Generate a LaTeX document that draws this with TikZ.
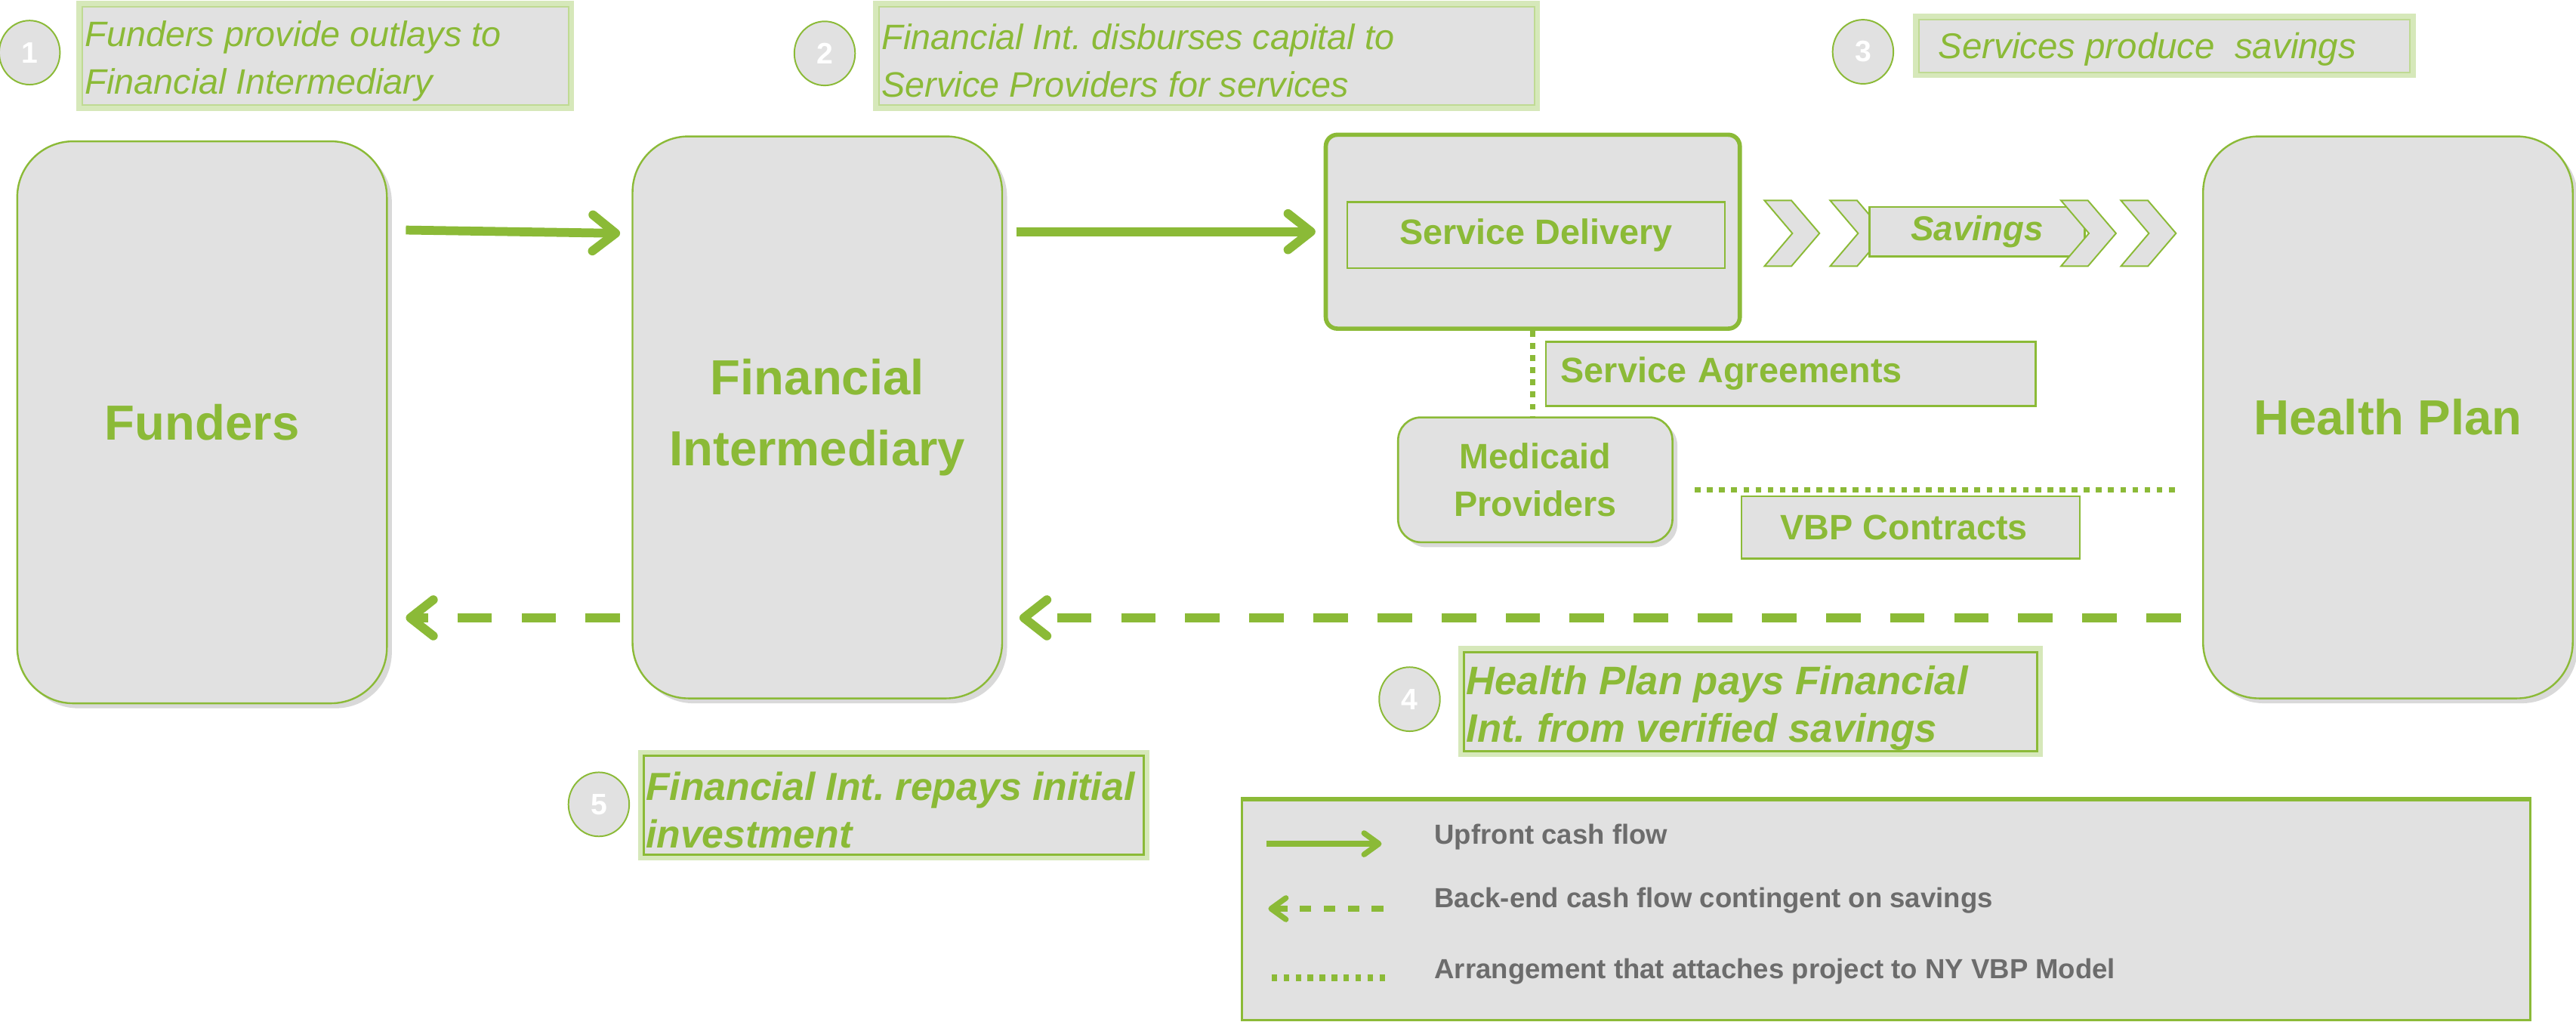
\documentclass[tikz,border=0pt]{standalone}
\usepackage{fontspec}
\setmainfont{Liberation Sans}
\usetikzlibrary{arrows.meta,shapes.geometric,shadows}
\definecolor{grn}{RGB}{139,186,55}
\definecolor{glow}{RGB}{214,232,186}
\definecolor{boxgray}{RGB}{225,225,225}
\definecolor{legtxt}{RGB}{108,108,108}
\frenchspacing
\begin{document}
\begin{tikzpicture}[x=1pt,y=-1pt,
  bigbox/.style={draw=grn, line width=1.1pt, fill=boxgray, rounded corners=34pt,
    minimum width=225pt, minimum height=342pt, text=grn, inner sep=0pt,
    font=\bfseries\fontsize{30}{43}\selectfont, align=center,
    drop shadow={shadow xshift=3pt, shadow yshift=-3pt, opacity=.3}},
  glowbox/.style={fill=boxgray, preaction={draw=glow, line width=7pt},
    draw=glow!70!grn, line width=0.8pt, inner sep=0pt},
  glowbold/.style={glowbox, draw=grn, line width=1.3pt},
  steptext/.style={anchor=west, text=grn, align=left, inner sep=0pt,
    font=\itshape\fontsize{21.5}{29}\selectfont},
  stepbold/.style={steptext, font=\bfseries\itshape\fontsize{24}{29}\selectfont},
  numcirc/.style={ellipse, draw=grn, line width=0.9pt, fill=boxgray,
    minimum width=37pt, minimum height=39pt, inner sep=0pt, text=white,
    font=\bfseries\fontsize{18}{18}\selectfont},
  plainbox/.style={draw=grn, line width=1.2pt, fill=boxgray, text=grn,
    inner sep=0pt, font=\bfseries\fontsize{21.5}{29}\selectfont, align=center},
  chev/.style={draw=grn, line width=0.9pt, fill=boxgray},
  upfront/.style={grn, line width=5.4pt, -{Straight Barb[length=14pt,width=22pt,round]}},
  backend/.style={grn, line width=5.4pt, dash pattern=on 21pt off 18pt,
    -{Straight Barb[length=14pt,width=22pt,round]}},
  vbpline/.style={grn, line width=3.4pt, dash pattern=on 3.5pt off 3.9pt},
  legup/.style={grn, line width=3.4pt, -{Straight Barb[length=9pt,width=13pt,round]}},
  legback/.style={grn, line width=3.4pt, dash pattern=on 7pt off 7.6pt,
    -{Straight Barb[length=9pt,width=13pt,round]}},
  legdot/.style={grn, line width=3.8pt, dash pattern=on 3.4pt off 3.9pt},
  legtext/.style={anchor=base west, text=legtxt, inner sep=0pt,
    font=\bfseries\fontsize{16.8}{20}\selectfont}
]
\useasboundingbox (0,0) rectangle (1568,621.5);

% step labels
\node[numcirc] (c1) at (18,32) {1};
\node[glowbox, minimum width=296pt, minimum height=60pt] (l1) at (198,34) {};
\node[steptext] (l1t) at ([xshift=2pt,yshift=-3pt]l1.west)
  {Funders provide outlays to\\Financial Intermediary};
\node[numcirc] (c2) at (502,32.5) {2};
\node[glowbox, minimum width=399pt, minimum height=60pt] (l2) at (734.5,34) {};
\node[steptext] (l2t) at ([xshift=2pt,yshift=-3pt]l2.west)
  {Financial Int. disburses capital to\\Service Providers for services};
\node[numcirc] (c3) at (1134,31.5) {3};
\node[glowbox, minimum width=299pt, minimum height=32pt] (l3) at (1317.5,28) {};
\node[steptext, font=\itshape\fontsize{21.8}{29}\selectfont] (l3t) at ([xshift=12pt,yshift=-2pt]l3.west)
  {Services produce \ savings};
\node[numcirc] (c4) at (858,425.5) {4};
\node[glowbold, minimum width=349pt, minimum height=60.5pt] (l4) at (1065.5,427) {};
\node[stepbold, font=\bfseries\itshape\fontsize{24.2}{29}\selectfont] (l4t) at ([xshift=2pt,yshift=-4pt]l4.west)
  {Health Plan pays Financial\\Int. from verified savings};
\node[numcirc] (c5) at (364.5,489.5) {5};
\node[glowbold, minimum width=304pt, minimum height=60pt] (l5) at (544,490) {};
\node[stepbold, font=\bfseries\itshape\fontsize{23.8}{29}\selectfont] (l5t) at ([xshift=1.5pt,yshift=-3pt]l5.west)
  {Financial Int. repays initial\\investment};

% main boxes
\node[bigbox] (fund) at (123,257) {Funders};
\node[bigbox] (fi) at (497.5,254) {Financial\\Intermediary};
\node[bigbox] (hp) at (1453.5,254) {Health Plan};

% service delivery
\node[draw=grn, line width=2.6pt, fill=boxgray, rounded corners=7pt,
  minimum width=252pt, minimum height=118pt] (sd) at (933,141) {};
\node[plainbox, line width=1pt, minimum width=230pt, minimum height=40pt] (sdi) at (935,143)
  {\raisebox{2pt}{Service Delivery}};

% chevrons and savings
\foreach \cx in {1074,1114} {
  \draw[chev] (\cx,122) -- ++(16.4,0) -- ++(17.1,20) -- ++(-17.1,20) -- ++(-16.4,0) -- ++(17,-20) -- cycle;
}
\node[plainbox, minimum width=131pt, minimum height=30pt,
  font=\bfseries\itshape\fontsize{21}{25}\selectfont] (sav) at (1203.5,141) {\raisebox{-1.5pt}{Savings}};
\foreach \cx in {1254.5,1291} {
  \draw[chev] (\cx,122) -- ++(16.4,0) -- ++(17.1,20) -- ++(-17.1,20) -- ++(-16.4,0) -- ++(17,-20) -- cycle;
}

% agreements, providers, contracts
\node[plainbox, minimum width=298pt, minimum height=39pt, text width=280pt,
  inner xsep=9pt, align=left] (sa) at (1090,227.5) {\raisebox{-2pt}{Service Agreements}};
\node[plainbox, minimum width=167pt, minimum height=76pt, rounded corners=14pt,
  drop shadow={shadow xshift=3pt, shadow yshift=-3pt, opacity=.3}] (med) at (934.5,292)
  {Medicaid\\Providers};
\node[plainbox, minimum width=206pt, minimum height=38pt] (vbp) at (1163,321)
  {\hspace*{-8pt}\raisebox{-1pt}{VBP Contracts}};

\draw[vbpline] (sd.south) -- (sd.south |- med.north);
\draw[vbpline, shorten <=13pt, shorten >=13pt] ([yshift=-6pt]med.east) -- ([yshift=-6pt]med.east -| hp.west);

% flows
\draw[upfront] ([xshift=11pt,yshift=117pt]fund.east) -- ([xshift=-7pt,yshift=112pt]fi.west);
\draw[upfront, shorten <=8pt, shorten >=5pt] (fi.east |- sd.west) -- (sd.west);
\draw[backend] ([xshift=-13pt,yshift=-122pt]hp.west) -- ([xshift=10pt,yshift=-122pt]fi.east);
\draw[backend] ([xshift=-7pt,yshift=-122pt]fi.west) -- ([xshift=11pt,yshift=-119pt]fund.east);

% legend
\node[draw=grn, line width=1.4pt, fill=boxgray, minimum width=784pt, minimum height=134pt,
  inner sep=0pt] (leg) at (1148,554) {};
\draw[grn, line width=3pt] (leg.north west) -- (leg.north east);
\coordinate (u1) at (771,513.5);
\coordinate (u2) at (841,513.5);
\coordinate (b1) at (842,553);
\coordinate (b2) at (772,553);
\coordinate (d1) at (774,595);
\coordinate (d2) at (844,595);
\draw[legup] (u1) -- (u2);
\draw[legback] (b1) -- (b2);
\draw[legdot] (d1) -- (d2);
\node[legtext] (t1) at (873,513.5) {Upfront cash flow};
\node[legtext] (t2) at (873,552.4) {Back-end cash flow contingent on savings};
\node[legtext] (t3) at (873,595.3) {Arrangement that attaches project to NY VBP Model};
\end{tikzpicture}
\end{document}
